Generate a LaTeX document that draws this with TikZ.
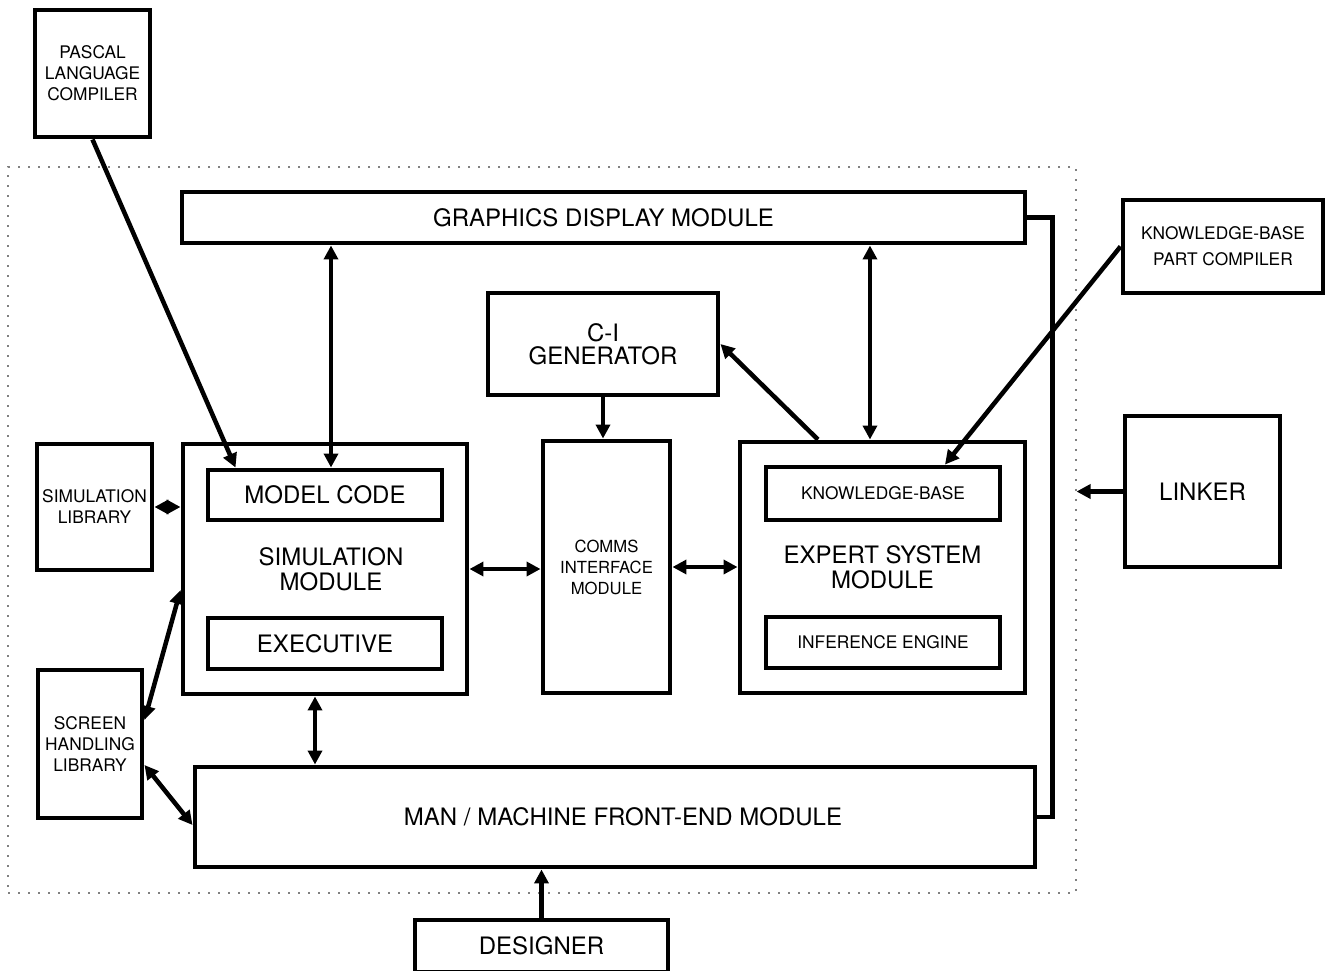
\documentclass[tikz,border=0pt]{standalone}
\usepackage{fontspec}
\setmainfont{TeX Gyre Heros}
\usetikzlibrary{arrows.meta}

\begin{document}
\begin{tikzpicture}[x=0.75pt,y=-0.75pt,
  box/.style={draw,rectangle,line width=3.7pt,inner sep=1pt,align=center},
  big/.style={font=\fontsize{18}{18.75}\selectfont},
  small/.style={font=\fontsize{13}{15.75}\selectfont},
  link/.style={line width=3.4pt},
  tip/.style={-{Triangle[length=10.5pt,width=10.5pt]}},
  both/.style={{Triangle[length=10.5pt,width=10.5pt]}-{Triangle[length=10.5pt,width=10.5pt]}},
  boundary/.style={draw=gray,line width=0.8pt,dash pattern=on 1.5pt off 6pt}]
\useasboundingbox (0,0) rectangle (1325,971);

\draw (542,530) node[boundary,minimum width=801pt,minimum height=544.5pt] (system) {};

\draw (92.5,73.5) node[box,small,minimum width=86.25pt,minimum height=95.25pt] (pascal) {PASCAL\\LANGUAGE\\COMPILER};
\draw (603.5,217.5) node[box,big,minimum width=632.25pt,minimum height=38.25pt] (graphics) {GRAPHICS DISPLAY MODULE};
\draw (1223,246.5) node[box,small,minimum width=150pt,minimum height=69.75pt,font=\fontsize{13}{19.5}\selectfont] (kbcomp) {KNOWLEDGE-BASE\\PART COMPILER};
\draw (603,344) node[box,big,minimum width=172.5pt,minimum height=76.5pt,font=\fontsize{18}{17.5}\selectfont] (cigen) {C-I\\GENERATOR};
\draw (325,569) node[box,big,minimum width=213pt,minimum height=187.5pt] (simmod) {\hspace*{9pt}SIMULATION\\\hspace*{9pt}MODULE};
\draw (325,495) node[box,big,minimum width=175.5pt,minimum height=37.5pt] (modelcode) {MODEL CODE};
\draw (325,643.5) node[box,big,minimum width=175.5pt,minimum height=38.25pt] (executive) {EXECUTIVE};
\draw (606.5,567) node[box,small,minimum width=95.25pt,minimum height=189pt,font=\fontsize{12.5}{15.75}\selectfont] (comms) {COMMS\\INTERFACE\\MODULE};
\draw (882.5,567.5) node[box,big,minimum width=213.75pt,minimum height=188.25pt] (expert) {EXPERT SYSTEM\\MODULE};
\draw (883,493.5) node[box,small,minimum width=175.5pt,minimum height=39.75pt] (kb) {KNOWLEDGE-BASE};
\draw (883,642.5) node[box,small,minimum width=175.5pt,minimum height=38.25pt] (infer) {INFERENCE ENGINE};
\draw (94.5,507) node[box,small,minimum width=86.25pt,minimum height=94.5pt] (simlib) {SIMULATION\\LIBRARY};
\draw (90,744) node[box,small,minimum width=78pt,minimum height=111pt] (screenlib) {SCREEN\\HANDLING\\LIBRARY};
\draw (1202.5,491.5) node[box,big,minimum width=116.25pt,minimum height=113.25pt] (linker) {LINKER};
\draw (615,817) node[box,big,minimum width=630pt,minimum height=75pt] (frontend) {\hspace*{12pt}MAN / MACHINE FRONT-END MODULE};
\draw (541.5,946) node[box,big,minimum width=189.75pt,minimum height=39pt] (designer) {DESIGNER};

\coordinate (mc) at ([xshift=4.5pt]modelcode.north);
\coordinate (es) at ([xshift=-9.4pt]expert.north);
\coordinate (sf) at ([xshift=-7.5pt]simmod.south);

\path (pascal.south) edge[link,tip] ([xshift=22.5pt]modelcode.north west);
\path (mc) edge[link,both] (mc |- graphics.south);
\path (es) edge[link,both] (es |- graphics.south);
\path (kbcomp.west) edge[link,tip] ([xshift=46.5pt]kb.north);
\path ([xshift=-48.4pt]expert.north) edge[link,tip] (cigen.east);
\path (cigen.south) edge[link,tip] (cigen.south |- comms.north);
\path (simmod.east) edge[link,both] (simmod.east -| comms.west);
\path (comms.east) edge[link,both] (comms.east -| expert.west);
\path (simlib.east) edge[link,both] (simlib.east -| simmod.west);
\path ([yshift=18pt]screenlib.east) edge[link,both] ([yshift=-15.75pt]simmod.west);
\path ([yshift=-15.75pt]screenlib.east) edge[link,both] ([yshift=-6pt]frontend.west);
\path (sf) edge[link,both] (sf |- frontend.north);
\path (designer.north) edge[link,tip] (designer.north |- frontend.south);
\path (linker.west) edge[link,tip] (linker.west -| system.east);
\draw[link] (graphics.east) -- ++(25,0) |- (frontend.east);
\end{tikzpicture}
\end{document}
